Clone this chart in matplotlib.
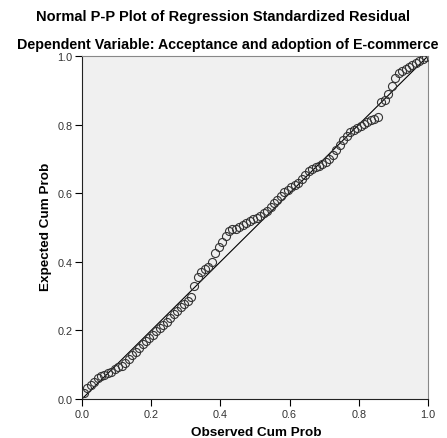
"""Normal P-P plot of regression standardized residual"""

import matplotlib
matplotlib.use('Agg')
import matplotlib.pyplot as plt

plt.rcParams['font.family'] = ['Liberation Sans', 'DejaVu Sans']

##
# DATA
observed = [0.005, 0.015, 0.025, 0.035, 0.045, 0.055, 0.065, 0.075, 0.085, 0.095,
            0.105, 0.115, 0.125, 0.135, 0.145, 0.155, 0.165, 0.175, 0.185, 0.195,
            0.205, 0.215, 0.225, 0.235, 0.245, 0.255, 0.265, 0.275, 0.285, 0.295,
            0.305, 0.315, 0.325, 0.335, 0.345, 0.355, 0.365, 0.375, 0.385, 0.395,
            0.405, 0.415, 0.425, 0.435, 0.445, 0.455, 0.465, 0.475, 0.485, 0.495,
            0.505, 0.515, 0.525, 0.535, 0.545, 0.555, 0.565, 0.575, 0.585, 0.595,
            0.605, 0.615, 0.625, 0.635, 0.645, 0.655, 0.665, 0.675, 0.685, 0.695,
            0.705, 0.715, 0.725, 0.735, 0.745, 0.755, 0.765, 0.775, 0.785, 0.795,
            0.805, 0.815, 0.825, 0.835, 0.845, 0.855, 0.865, 0.875, 0.885, 0.895,
            0.905, 0.915, 0.925, 0.935, 0.945, 0.955, 0.965, 0.975, 0.985, 0.995]
expected = [0.018, 0.032, 0.042, 0.051, 0.061, 0.066, 0.071, 0.075, 0.079, 0.087,
            0.093, 0.097, 0.106, 0.117, 0.127, 0.137, 0.149, 0.159, 0.168, 0.177,
            0.187, 0.197, 0.208, 0.216, 0.225, 0.235, 0.247, 0.258, 0.268, 0.278,
            0.286, 0.296, 0.330, 0.355, 0.370, 0.378, 0.385, 0.400, 0.427, 0.444,
            0.458, 0.475, 0.490, 0.495, 0.497, 0.502, 0.508, 0.513, 0.519, 0.524,
            0.529, 0.533, 0.541, 0.548, 0.560, 0.570, 0.580, 0.592, 0.603, 0.610,
            0.617, 0.623, 0.631, 0.641, 0.652, 0.664, 0.670, 0.675, 0.680, 0.684,
            0.692, 0.701, 0.711, 0.726, 0.741, 0.756, 0.768, 0.777, 0.784, 0.791,
            0.797, 0.802, 0.807, 0.812, 0.817, 0.822, 0.866, 0.872, 0.888, 0.912,
            0.935, 0.950, 0.957, 0.962, 0.967, 0.973, 0.979, 0.985, 0.991, 0.997]
diagonal = [0.0, 1.0]
ticks = [0.0, 0.2, 0.4, 0.6, 0.8, 1.0]
tick_labels = ['0.0', '0.2', '0.4', '0.6', '0.8', '1.0']

##
# PLOT
fig = plt.figure(figsize=(4.47, 4.39), dpi=100)
ax = fig.add_axes([0.1834, 0.0888, 0.7741, 0.7814])
ax.set_facecolor('#f0f0f0')

ax.plot(diagonal, diagonal, color='black', lw=0.8, zorder=2)
ax.plot(observed, expected, linestyle='none', marker='o', markersize=5.8,
        markerfacecolor='none', markeredgecolor='#333333', markeredgewidth=0.8, zorder=3)

ax.set_xlim(0, 1)
ax.set_ylim(0, 1)
ax.set_xticks(ticks)
ax.set_xticklabels(tick_labels)
ax.set_yticks(ticks)
ax.set_yticklabels(tick_labels)
ax.tick_params(direction='out', length=5, width=0.8, labelsize=7.8,
               labelcolor='#333333', pad=2)
for side in ['left', 'bottom']:
    ax.spines[side].set_color('#222222')
for side in ['top', 'right']:
    ax.spines[side].set_color('#888888')

ax.set_xlabel('Observed Cum Prob', fontsize=9.7, fontweight='bold')
ax.set_ylabel('Expected Cum Prob', fontsize=9.7, fontweight='bold')
ax.xaxis.set_label_coords(0.503, -0.078)
ax.yaxis.set_label_coords(-0.087, 0.504)

fig.text(0.5, 0.962, 'Normal P-P Plot of Regression Standardized Residual',
         ha='center', va='center', fontsize=10.5, fontweight='bold')
fig.text(0.51, 0.898, 'Dependent Variable: Acceptance and adoption of E-commerce',
         ha='center', va='center', fontsize=10.3, fontweight='bold')

plt.savefig('out.png', dpi=100)
plt.close()
